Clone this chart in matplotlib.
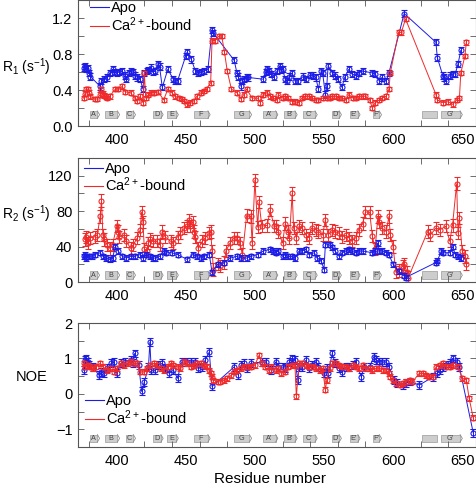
import matplotlib
matplotlib.use('Agg')
import matplotlib.pyplot as plt
from matplotlib.ticker import MultipleLocator
from matplotlib.patches import Rectangle
from matplotlib.lines import Line2D
from matplotlib.transforms import blended_transform_factory

plt.rcParams['font.family'] = ['Liberation Sans', 'DejaVu Sans']
plt.rcParams['mathtext.fontset'] = 'custom'
plt.rcParams['mathtext.rm'] = 'Liberation Sans'
plt.rcParams['mathtext.it'] = 'Liberation Sans:italic'
plt.rcParams['mathtext.bf'] = 'Liberation Sans:bold'

# (residue, value)
r1_apo = [(376, 0.65), (377, 0.67), (378, 0.63), (379, 0.64), (380, 0.59), (381, 0.55),
          (388, 0.44), (389, 0.50), (391, 0.52), (393, 0.54), (395, 0.59), (397, 0.63),
          (398, 0.60), (400, 0.59), (402, 0.60), (404, 0.61), (406, 0.56), (407, 0.52),
          (409, 0.59), (410, 0.61), (412, 0.60), (413, 0.56), (415, 0.54), (417, 0.52),
          (419, 0.41), (420, 0.59), (422, 0.61), (423, 0.62), (425, 0.65), (426, 0.60),
          (428, 0.61), (430, 0.69), (431, 0.66), (433, 0.43), (437, 0.63), (441, 0.52),
          (442, 0.50), (444, 0.50), (450, 0.78), (451, 0.82), (454, 0.74), (457, 0.61),
          (459, 0.59), (461, 0.60), (463, 0.61), (466, 0.63), (469, 1.07), (470, 1.03),
          (485, 0.73), (487, 0.59), (488, 0.55), (490, 0.44), (491, 0.50), (492, 0.52),
          (494, 0.54), (495, 0.54), (506, 0.52), (508, 0.60), (509, 0.63), (510, 0.61),
          (512, 0.58), (514, 0.55), (516, 0.61), (518, 0.67), (519, 0.62), (520, 0.63),
          (522, 0.52), (523, 0.50), (525, 0.55), (527, 0.59), (529, 0.50), (531, 0.50),
          (535, 0.55), (537, 0.52), (540, 0.57), (542, 0.56), (544, 0.54), (546, 0.41),
          (548, 0.61), (549, 0.59), (551, 0.35), (552, 0.44), (553, 0.67), (556, 0.59),
          (558, 0.56), (560, 0.52), (563, 0.43), (565, 0.54), (568, 0.63), (570, 0.58),
          (573, 0.56), (575, 0.59), (578, 0.61), (585, 0.59), (587, 0.58), (590, 0.50),
          (592, 0.54), (595, 0.50), (597, 0.59), (608, 1.25), (631, 0.93), (632, 0.76),
          (636, 0.56), (637, 0.54), (638, 0.50), (641, 0.56), (643, 0.58), (645, 0.58),
          (647, 0.69), (649, 0.84)]
r1_ca = [(376, 0.31), (377, 0.36), (378, 0.41), (379, 0.41), (380, 0.37), (381, 0.33),
         (384, 0.30), (386, 0.30), (388, 0.35), (389, 0.41), (390, 0.36), (391, 0.34),
         (392, 0.33), (393, 0.31), (395, 0.33), (399, 0.41), (401, 0.41), (404, 0.44),
         (406, 0.38), (410, 0.37), (413, 0.31), (415, 0.28), (417, 0.33), (419, 0.26),
         (420, 0.59), (421, 0.31), (423, 0.35), (425, 0.37), (427, 0.37), (430, 0.38),
         (434, 0.29), (437, 0.41), (440, 0.37), (442, 0.33), (445, 0.31), (447, 0.30),
         (449, 0.28), (451, 0.24), (453, 0.26), (456, 0.28), (458, 0.33), (461, 0.37),
         (463, 0.39), (465, 0.41), (468, 0.48), (469, 0.95), (471, 0.95), (474, 1.00),
         (476, 1.00), (478, 0.82), (480, 0.61), (483, 0.41), (487, 0.37), (490, 0.30),
         (492, 0.35), (494, 0.41), (498, 0.31), (502, 0.31), (504, 0.26), (506, 0.35),
         (509, 0.37), (511, 0.33), (513, 0.31), (516, 0.29), (517, 0.35), (520, 0.31),
         (522, 0.33), (524, 0.31), (527, 0.27), (529, 0.27), (532, 0.26), (534, 0.31),
         (536, 0.33), (539, 0.33), (541, 0.31), (544, 0.29), (546, 0.29), (549, 0.31),
         (552, 0.31), (554, 0.31), (556, 0.33), (559, 0.33), (561, 0.31), (563, 0.31),
         (566, 0.29), (568, 0.35), (571, 0.31), (573, 0.31), (575, 0.33), (578, 0.33),
         (580, 0.33), (583, 0.29), (585, 0.20), (587, 0.26), (590, 0.29), (592, 0.31),
         (595, 0.33), (597, 0.41), (598, 0.59), (604, 1.04), (606, 1.04), (609, 1.19),
         (631, 0.35), (632, 0.29), (636, 0.26), (640, 0.27), (643, 0.24), (646, 0.29),
         (648, 0.31), (649, 0.59), (652, 0.78), (653, 0.93)]

r2_apo = [(376, 29), (377, 31), (378, 27), (380, 29), (382, 29), (384, 31), (388, 33),
          (390, 29), (392, 27), (395, 25.5), (397, 27), (399, 40), (401, 35), (404, 29),
          (407, 27), (410, 29), (413, 29), (417, 31), (419, 27), (421, 31), (424, 29),
          (426, 27), (428, 27), (431, 29), (434, 35), (436, 33), (440, 33), (444, 31),
          (451, 25.5), (455, 31), (458, 29), (461, 27), (463, 29), (467, 31), (469, 11),
          (473, 20), (478, 22), (482, 27), (487, 29), (490, 27), (494, 27), (497, 29),
          (502, 31), (506, 35), (511, 37), (513, 35), (515, 33), (517, 35), (520, 29),
          (522, 31), (524, 29), (527, 29), (529, 27), (532, 35), (534, 35), (537, 37),
          (539, 31), (543, 33), (545, 27), (548, 24), (550, 14), (551, 42), (554, 42),
          (556, 39), (558, 35), (561, 29), (563, 33), (566, 35), (568, 37), (570, 35),
          (573, 33), (575, 35), (578, 35), (585, 33), (587, 35), (589, 44), (590, 35),
          (592, 35), (595, 33), (597, 31), (600, 20), (604, 12), (608, 7), (609, 5),
          (631, 22), (632, 24), (635, 35), (636, 33), (641, 33), (643, 40), (645, 31),
          (647, 29), (649, 27)]
r2_ca = [(377, 48), (378, 51), (379, 44), (381, 50), (384, 51), (386, 53), (388, 74),
         (389, 92), (390, 53), (391, 48), (393, 42), (395, 38), (397, 42), (400, 63),
         (401, 57), (402, 51), (405, 53), (407, 46), (410, 38), (412, 42), (415, 50),
         (417, 59), (418, 79), (419, 68), (420, 37), (422, 35), (423, 44), (424, 48),
         (426, 46), (429, 46), (431, 42), (433, 57), (435, 51), (439, 46), (441, 44),
         (444, 51), (446, 55), (449, 61), (451, 63), (452, 70), (453, 63), (455, 68),
         (456, 57), (457, 51), (459, 38), (462, 46), (464, 50), (467, 55), (468, 57),
         (469, 35), (470, 14), (473, 20), (475, 18), (478, 22), (479, 35), (482, 44),
         (485, 50), (487, 50), (489, 44), (491, 31), (494, 75), (497, 74), (498, 44),
         (500, 115), (502, 62), (503, 90), (505, 63), (509, 64), (511, 81), (514, 63),
         (515, 63), (517, 57), (520, 44), (522, 66), (524, 57), (525, 50), (527, 100),
         (528, 61), (530, 50), (532, 63), (534, 61), (537, 53), (539, 50), (541, 61),
         (544, 59), (546, 57), (549, 53), (551, 70), (553, 53), (556, 59), (558, 57),
         (561, 55), (563, 51), (566, 53), (568, 50), (570, 46), (573, 50), (575, 59),
         (578, 66), (580, 79), (583, 79), (585, 52), (587, 37), (589, 74), (590, 68),
         (592, 61), (595, 57), (597, 74), (598, 53), (600, 40), (602, 11), (604, 13),
         (607, 18), (608, 20), (610, 11), (611, 5), (625, 57), (627, 53), (631, 61),
         (634, 59), (638, 63), (641, 46), (643, 64), (646, 111), (647, 55), (648, 72),
         (650, 35), (652, 29), (653, 20)]

noe_apo = [(376, 0.67), (377, 0.95), (378, 1.00), (379, 0.90), (380, 0.81), (383, 0.76),
           (387, 0.53), (389, 0.62), (391, 0.58), (393, 0.72), (396, 0.86), (398, 0.90),
           (400, 0.58), (403, 0.86), (406, 0.90), (410, 0.95), (412, 0.86), (413, 1.14),
           (416, 0.81), (418, 0.07), (420, 0.34), (423, 0.76), (424, 1.46), (425, 0.67),
           (428, 0.67), (430, 0.81), (433, 0.86), (435, 0.72), (438, 0.58), (441, 0.67),
           (444, 0.44), (447, 0.90), (451, 0.90), (454, 0.90), (457, 0.90), (459, 0.72),
           (462, 0.76), (464, 0.95), (467, 1.18), (469, 0.21), (485, 0.76), (488, 0.53),
           (490, 0.81), (492, 0.86), (494, 0.72), (497, 0.86), (505, 0.90), (508, 0.90),
           (512, 0.67), (515, 0.90), (517, 0.76), (520, 0.76), (522, 0.72), (525, 0.90),
           (527, 1.00), (529, 0.95), (531, 0.39), (532, 0.76), (534, 0.76), (537, 0.95),
           (539, 0.72), (541, 0.81), (544, 0.90), (546, 0.76), (550, 0.58), (552, 0.72),
           (553, 0.58), (556, 1.14), (558, 0.86), (561, 0.72), (563, 0.62), (566, 0.76),
           (568, 0.76), (571, 0.81), (573, 0.90), (577, 0.48), (579, 0.76), (583, 0.76),
           (586, 1.04), (588, 0.95), (590, 0.90), (592, 0.90), (595, 0.90), (597, 0.76),
           (601, 0.39), (603, 0.30), (607, 0.25), (609, 0.30), (612, 0.35), (619, 0.25),
           (629, 0.48), (632, 0.58), (634, 0.67), (636, 0.76), (638, 0.81), (641, 0.86),
           (643, 1.00), (646, 0.90), (648, 0.76), (658, -1.10)]
noe_ca = [(376, 0.86), (377, 0.76), (379, 0.81), (381, 0.76), (383, 0.72), (385, 0.76),
          (388, 0.86), (390, 0.76), (393, 0.67), (395, 0.72), (398, 0.62), (400, 0.72),
          (403, 0.86), (405, 0.81), (408, 0.86), (410, 0.90), (413, 0.86), (415, 0.86),
          (417, 0.62), (420, 0.62), (422, 0.72), (424, 0.81), (427, 0.86), (429, 0.81),
          (432, 0.72), (434, 0.67), (437, 0.76), (439, 0.86), (441, 0.81), (444, 0.76),
          (446, 0.72), (449, 0.90), (451, 0.86), (454, 0.76), (456, 0.81), (458, 0.86),
          (461, 0.86), (463, 0.81), (465, 0.76), (467, 0.67), (468, 0.58), (469, 0.48),
          (470, 0.39), (473, 0.34), (475, 0.34), (478, 0.39), (480, 0.44), (483, 0.53),
          (485, 0.62), (487, 0.67), (490, 0.72), (492, 0.76), (495, 0.76), (497, 0.76),
          (500, 0.81), (503, 1.09), (505, 0.86), (507, 0.76), (510, 0.67), (512, 0.76),
          (515, 0.67), (517, 0.72), (519, 0.58), (522, 0.62), (524, 0.76), (527, 0.81),
          (529, 0.81), (530, -0.07), (532, 0.86), (534, 0.86), (537, 0.81), (539, 0.76),
          (542, 0.76), (544, 0.72), (547, 0.67), (549, 0.72), (551, 0.11), (552, 0.39),
          (554, 0.72), (556, 0.86), (559, 0.86), (561, 0.81), (563, 0.76), (566, 0.76),
          (568, 0.72), (571, 0.81), (573, 0.76), (575, 0.72), (578, 0.81), (580, 0.72),
          (583, 0.72), (585, 0.67), (588, 0.72), (590, 0.72), (593, 0.67), (595, 0.67),
          (597, 0.58), (598, 0.48), (600, 0.39), (602, 0.30), (605, 0.25), (607, 0.30),
          (609, 0.34), (612, 0.39), (614, 0.34), (619, 0.58), (622, 0.58), (624, 0.53),
          (626, 0.48), (629, 0.48), (631, 0.76), (634, 0.81), (636, 0.86), (638, 0.76),
          (641, 0.76), (643, 0.81), (647, 0.76), (650, 0.44), (653, 0.39), (655, -0.12),
          (658, -0.68)]

# typical error bar half-heights
r1_apo_err, r1_ca_err = 0.035, 0.025
r2_apo_err, r2_ca_err = 3.0, 7.0
noe_apo_err, noe_ca_err = 0.11, 0.07

# secondary structure elements
ss_labels = ['A', 'B', 'C', 'D', 'E', 'F', 'G', "A'", "B'", "C'", "D'", "E'", "F'", '', "G'"]
ss_start = [381, 391.5, 406.5, 426.5, 436.5, 456, 485, 506, 521, 534.5, 555.5, 568.5, 585.5, 621, 634.5]
ss_end = [386, 400.5, 412, 432, 443, 466, 496, 515, 529, 543.5, 561, 574.5, 590, 632, 648.5]

BLUE = '#1c1ce6'
RED = '#f02a2a'

fig = plt.figure(figsize=(4.77, 4.88), dpi=100)
W, H = 477.0, 488.0
ax1 = fig.add_axes([78 / W, 1 - 126 / H, 398 / W, 126 / H])
ax2 = fig.add_axes([78 / W, 1 - 282 / H, 398 / W, 124 / H])
ax3 = fig.add_axes([78 / W, 1 - 447 / H, 398 / W, 124 / H])


def series(ax, data, err, color, z):
    x = [p[0] for p in data]
    y = [p[1] for p in data]
    ax.errorbar(x, y, yerr=err, color=color, lw=0.7, marker='o', ms=3.6,
                mfc='none', mec=color, mew=0.8, elinewidth=0.7, capsize=2.2,
                capthick=0.7, zorder=z)


def draw_ss(ax, yc):
    tr = blended_transform_factory(ax.transData, ax.transAxes)
    h = 0.06
    for lab, a, b in zip(ss_labels, ss_start, ss_end):
        ax.add_patch(Rectangle((a, yc - h / 2), b - a, h, transform=tr,
                               facecolor='#cdcdcd', edgecolor='#9a9a9a', lw=0.5, zorder=1))
        if lab:
            ax.add_line(Line2D([b, b + 1.6, b], [yc - h / 2, yc, yc + h / 2], transform=tr,
                               color='#8a8a8a', lw=0.6, zorder=1))
            ax.text((a + b) / 2, yc, lab, transform=tr, fontsize=5.2, color='#444444',
                    ha='center', va='center', zorder=1)


def style(ax, ylim, major, minor):
    ax.set_xlim(372, 660)
    ax.set_ylim(*ylim)
    ax.xaxis.set_major_locator(MultipleLocator(50))
    ax.xaxis.set_minor_locator(MultipleLocator(20))
    ax.yaxis.set_major_locator(MultipleLocator(major))
    ax.yaxis.set_minor_locator(MultipleLocator(minor))
    ax.tick_params(axis='x', which='major', length=0, pad=5, labelsize=10.5)
    ax.tick_params(axis='x', which='minor', direction='in', length=4, top=True,
                   width=0.6, color='#555555')
    ax.tick_params(axis='y', which='both', direction='in', length=4, right=True,
                   width=0.6, color='#555555', labelsize=10.5, pad=4)
    for s in ax.spines.values():
        s.set_color('#555555')
        s.set_linewidth(0.8)


def legend(ax, x, y):
    h = [Line2D([], [], color=BLUE, lw=0.8), Line2D([], [], color=RED, lw=0.8)]
    ax.legend(h, ['Apo', 'Ca$^{2+}$-bound'], loc='upper left', bbox_to_anchor=(x, y),
              frameon=False, fontsize=10.5, handlelength=1.3, handletextpad=0.15,
              labelspacing=0.0, borderpad=0, borderaxespad=0)


series(ax1, r1_apo, r1_apo_err, BLUE, 3)
series(ax1, r1_ca, r1_ca_err, RED, 4)
draw_ss(ax1, 0.09)
style(ax1, (0, 1.4), 0.4, 0.2)
legend(ax1, 0.03, 0.99)

series(ax2, r2_ca, r2_ca_err, RED, 3)
series(ax2, r2_apo, r2_apo_err, BLUE, 4)
draw_ss(ax2, 0.055)
style(ax2, (0, 140), 40, 20)
legend(ax2, 0.015, 0.97)

series(ax3, noe_apo, noe_apo_err, BLUE, 3)
series(ax3, noe_ca, noe_ca_err, RED, 4)
draw_ss(ax3, 0.07)
style(ax3, (-1.5, 2), 1, 0.5)
legend(ax3, 0.018, 0.425)

fig.text(2 / W, 1 - 67 / H, 'R$_1$ (s$^{-1}$)', fontsize=10, ha='left', va='center')
fig.text(2 / W, 1 - 214 / H, 'R$_2$ (s$^{-1}$)', fontsize=10, ha='left', va='center')
fig.text(32 / W, 1 - 377 / H, 'NOE', fontsize=10.5, ha='center', va='center')
fig.text(270 / W, 1 - 479 / H, 'Residue number', fontsize=11, ha='center', va='center')

fig.savefig('out.png', dpi=100)
